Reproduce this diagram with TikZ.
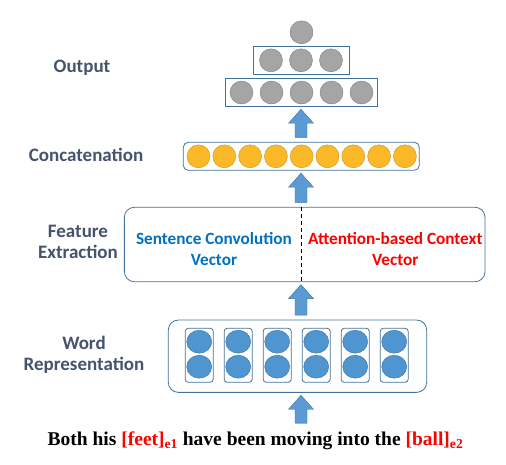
\documentclass[tikz,border=0pt]{standalone}
\usepackage{fontspec}
\setmainfont{Liberation Serif}
\newfontfamily\lblfont{Carlito}
\usetikzlibrary{calc,shapes.geometric}

\definecolor{boxline}{HTML}{41719C}
\definecolor{arrowfill}{HTML}{5B9BD5}
\definecolor{grayfill}{HTML}{A5A5A5}
\definecolor{grayline}{HTML}{7F7F7F}
\definecolor{goldfill}{HTML}{FBB829}
\definecolor{goldline}{HTML}{C8961E}
\definecolor{wordfill}{HTML}{4F95D0}
\definecolor{lblgray}{HTML}{44546A}
\definecolor{convblue}{HTML}{0070C0}

\tikzset{
    layerlabel/.style={font=\lblfont\bfseries\fontsize{19}{21}\selectfont, text=lblgray, align=center},
    vectext/.style={font=\lblfont\bfseries\fontsize{17.2}{21}\selectfont, align=center},
    flatbox/.style={draw=boxline, thick, inner sep=0pt},
    roundbox/.style={draw=boxline, thick, rounded corners=10pt, inner sep=0pt},
    graycirc/.style={circle, draw=grayline, fill=grayfill, minimum size=23pt, inner sep=0pt},
    goldcirc/.style={circle, draw=goldline, fill=goldfill, minimum size=23pt, inner sep=0pt},
    wordcirc/.style={ellipse, draw=boxline, fill=wordfill, minimum width=25pt, minimum height=23pt, inner sep=0pt},
    blockarrow/.style={draw=boxline, fill=arrowfill, thin,
        to path={let \p1=(\tikztostart), \p2=(\tikztotarget) in
            ({\x1-6pt},{\y1+4.5pt}) -- ({\x1-6pt},{\y2-16.5pt}) -- ({\x1-12.5pt},{\y2-16.5pt})
            -- (\x1,{\y2-2.5pt}) -- ({\x1+12.5pt},{\y2-16.5pt}) -- ({\x1+6pt},{\y2-16.5pt})
            -- ({\x1+6pt},{\y1+4.5pt}) -- cycle}}
}

\begin{document}
\begin{tikzpicture}[x=1pt,y=-1pt]
    \useasboundingbox (0,0) rectangle (506,464);

    % layer names on the left
    \node[layerlabel] (lout) at (82,68) {Output};
    \node[layerlabel] (lcat) at (86,155) {Concatenation};
    \node[layerlabel] (lfeat) at (78,242) {Feature\\Extraction};
    \node[layerlabel] (lword) at (84,355) {Word\\Representation};

    % output layer
    \node[graycirc] (o0) at (301.5,32.3) {};
    \node[flatbox, minimum width=95.7, minimum height=27.3] (outmid) at (301.2,60.3) {};
    \foreach \i in {-1,0,1}
        \node[graycirc] (om\i) at (301+30*\i,60.3) {};
    \node[flatbox, minimum width=152.7, minimum height=27.6] (outbot) at (301.3,92.5) {};
    \foreach \i in {-2,...,2}
        \node[graycirc] (ob\i) at (301.5+30*\i,92.5) {};

    % concatenation layer
    \node[roundbox, rounded corners=5pt, minimum width=236, minimum height=28] (concat) at (301.3,156.3) {};
    \foreach \i in {-4,...,4}
        \node[goldcirc] (c\i) at (301.7+25.8*\i,156.3) {};

    % feature extraction
    \node[roundbox, minimum width=360.7, minimum height=74.4] (feat) at (304.7,244.5) {};
    \draw[thick, dash pattern=on 4pt off 3pt] (301.7,0 |- feat.north) -- (301.7,0 |- feat.south);
    \node[vectext, text=convblue] (conv) at (214,249) {Sentence Convolution\\Vector};
    \node[vectext, text=red] (att) at (395.3,249) {Attention-based Context\\Vector};

    % word representation
    \node[roundbox, minimum width=258.4, minimum height=72.3] (word) at (297.5,356.2) {};
    \foreach \i in {0,...,5} {
        \node[flatbox, rounded corners=3pt, minimum width=28, minimum height=54] (w\i) at (199.2+39*\i,355.3) {};
        \node[wordcirc] (wa\i) at (199.2+39*\i,341.7) {};
        \node[wordcirc] (wb\i) at (199.2+39*\i,366.7) {};
    }

    % input sentence
    \node[font=\bfseries\fontsize{19.5}{21}\selectfont, inner sep=0pt] (sent) at (255.5,441)
        {Both his \textcolor{red}{[feet]\textsubscript{e1}} have been moving into the \textcolor{red}{[ball]\textsubscript{e2}}};

    % block arrows
    \coordinate (ax) at (301,0);
    \draw[blockarrow] (concat.north -| ax) to (outbot.south -| ax);
    \draw[blockarrow] (feat.north -| ax) to (concat.south -| ax);
    \draw[blockarrow] (word.north -| ax) to (feat.south -| ax);
    \draw[blockarrow] ([yshift=4pt]sent.north -| ax) to (word.south -| ax);

\end{tikzpicture}
\end{document}
